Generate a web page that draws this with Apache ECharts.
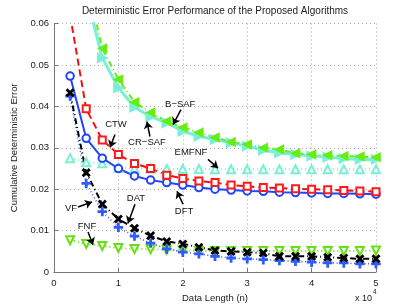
<!DOCTYPE html>
<html><head><meta charset="utf-8">
<script src="https://cdn.jsdelivr.net/npm/echarts@6/dist/echarts.min.js"></script>
<style>html,body{margin:0;padding:0;background:#fff}#c{width:415px;height:308px}</style>
</head><body><div id="c"></div>
<script>
// Data length n
const dataLength = [2500,5000,7500,10000,12500,15000,17500,20000,22500,25000,27500,30000,32500,35000,37500,40000,42500,45000,47500,50000];
const xTicks = ['0','1','2','3','4','5'];
const yTicks = ['0','0.01','0.02','0.03','0.04','0.05','0.06'];

const dft   = [0.0473,0.0323,0.0275,0.0250,0.0232,0.0222,0.0216,0.0210,0.0204,0.0200,0.0198,0.0196,0.0195,0.0193,0.0192,0.0191,0.0190,0.0190,0.0189,0.0188];
const ctw   = [0.0620,0.0394,0.0319,0.0284,0.0262,0.0250,0.0234,0.0226,0.0220,0.0216,0.0210,0.0207,0.0204,0.0203,0.0201,0.0200,0.0199,0.0197,0.0196,0.0194];
const bsaf  = [0.1000,0.0705,0.0540,0.0465,0.0410,0.0385,0.0364,0.0349,0.0337,0.0325,0.0314,0.0308,0.0300,0.0296,0.0287,0.0284,0.0282,0.0280,0.0279,0.0277];
const crsaf = [0.0950,0.0670,0.0517,0.0445,0.0398,0.0375,0.0360,0.0340,0.0328,0.0320,0.0312,0.0304,0.0294,0.0288,0.0284,0.0280,0.0277,0.0274,0.0272,0.0272];
const emfnf = [0.0275,0.0265,0.0263,0.0252,0.0250,0.0250,0.0249,0.0249,0.0249,0.0248,0.0248,0.0248,0.0248,0.0248,0.0248,0.0248,0.0248,0.0248,0.0248,0.0248];
const vf    = [0.0425,0.0214,0.0146,0.0108,0.0087,0.0070,0.0056,0.0048,0.0044,0.0038,0.0034,0.0032,0.0030,0.0028,0.0026,0.0024,0.0022,0.0022,0.0020,0.0020];
const dat   = [0.0433,0.0240,0.0164,0.0128,0.0106,0.0088,0.0074,0.0068,0.0060,0.0052,0.0050,0.0048,0.0046,0.0038,0.0038,0.0038,0.0036,0.0034,0.0032,0.0032];
const fnf   = [0.0077,0.0068,0.0063,0.0058,0.0056,0.0055,0.0054,0.0052,0.0051,0.0051,0.0051,0.0051,0.0051,0.0051,0.0051,0.0051,0.0051,0.0051,0.0051,0.0052];

// annotations: label, text position, arrow tail, arrow head (data coords)
const annLabels = ['B\u2212SAF','CR\u2212SAF','CTW','EMFNF','DFT','DAT','VF','FNF'];
const annText = [[19600,0.0404],[14440,0.0313],[9630,0.0356],[21270,0.0289],[20190,0.0147],[12730,0.0178],[2640,0.0154],[5120,0.0111]];
const annTail = [[19720,0.0392],[14900,0.0327],[9470,0.0332],[23910,0.0272],[20030,0.0164],[12580,0.0164],[3730,0.0157],[5280,0.0097]];
const annHead = [[18480,0.0356],[14440,0.0363],[8700,0.0301],[25470,0.0251],[19100,0.0195],[11490,0.0118],[5900,0.0169],[6060,0.0066]];

const FONT = 'Liberation Sans';
const plus = 'path://M-0.8,-5H0.8V-0.8H5V0.8H0.8V5H-0.8V0.8H-5V-0.8H-0.8Z';
const pts = arr => dataLength.map((x,i)=>[x,arr[i]]);

function mk(name, arr, color, lineType, width, symbol, size, opts){
  return Object.assign({
    name, type:'line', data:pts(arr), symbol, symbolSize:size, showAllSymbol:true,
    lineStyle:{color, width, type:lineType},
    itemStyle:{color, borderColor:color, borderWidth:1.5},
    clip:true, animation:false, silent:true, z:2
  }, opts||{});
}

const chart = echarts.init(document.getElementById('c'), null, {renderer:'canvas'});
const option = {
  backgroundColor:'#fff',
  animation:false,
  textStyle:{fontFamily:FONT},
  grid:{left:54, right:39, top:23.5, bottom:34.7},
  xAxis:{type:'value', min:0, max:50000, interval:10000,
    name:'Data Length (n)', nameLocation:'middle', nameGap:17,
    nameTextStyle:{fontFamily:FONT, fontSize:9.5, color:'#222'},
    axisLine:{show:true, lineStyle:{color:'#777', width:1}},
    axisTick:{show:true, inside:true, length:4, lineStyle:{color:'#777'}},
    axisLabel:{formatter:(v)=>xTicks[Math.round(v/10000)], fontFamily:FONT, fontSize:9.5, color:'#222', margin:6},
    splitLine:{show:true, lineStyle:{color:'#aaa', type:[1,3], width:1}}},
  yAxis:{type:'value', min:0, max:0.06, interval:0.01,
    name:'Cumulative Deterministic Error', nameLocation:'middle', nameGap:32,
    nameTextStyle:{fontFamily:FONT, fontSize:9.5, color:'#222'},
    axisLine:{show:true, lineStyle:{color:'#777', width:1}},
    axisTick:{show:true, inside:true, length:4, lineStyle:{color:'#777'}},
    axisLabel:{formatter:(v)=>yTicks[Math.round(v/0.01)], fontFamily:FONT, fontSize:9.5, color:'#222', margin:5},
    splitLine:{show:true, lineStyle:{color:'#aaa', type:[1,3], width:1}}},
  series:[
    mk('EMFNF', emfnf, '#78f0d2', [1,3], 2, 'emptyTriangle', 8, {itemStyle:{color:'#78f0d2', borderWidth:2}}),
    mk('CR-SAF', crsaf, '#78f0d8', 'solid', 3, 'triangle', 9, {symbolRotate:-90}),
    mk('B-SAF', bsaf, '#66ee11', [6,3,1,3], 2, 'triangle', 8, {symbolRotate:90}),
    mk('FNF', fnf, '#66e011', [1,3], 2, 'emptyTriangle', 8, {symbolRotate:180, itemStyle:{color:'#66e011', borderWidth:2}}),
    mk('VF', vf, '#2f5bff', [1,2.5], 1.5, plus, 8),
    mk('DAT', dat, '#000000', [6,3,1,3], 2, plus, 8.5, {symbolRotate:45}),
    mk('DFT', dft, '#2244ff', 'solid', 2, 'emptyCircle', 7.5, {itemStyle:{color:'#2244ff', borderWidth:1.5}}),
    mk('CTW', ctw, '#ee1111', [7,4], 2, 'emptyRect', 7, {itemStyle:{color:'#ff1a1a', borderWidth:2.5}}),
    {
      name:'annotations', type:'line', data:[], silent:true, animation:false, z:5,
      markLine:{silent:true, animation:false, symbol:['none','arrow'], symbolSize:7,
        lineStyle:{color:'#000', width:1.5, type:'solid'}, label:{show:false},
        data: annTail.map((t,i)=>[{coord:t}, {coord:annHead[i]}])},
      markPoint:{silent:true, animation:false, symbol:'rect', symbolSize:1,
        itemStyle:{color:'rgba(0,0,0,0)'},
        label:{show:true, position:'inside', color:'#111', fontFamily:FONT, fontSize:9.5, formatter:(p)=>p.name},
        data: annText.map((c,i)=>({name:annLabels[i], coord:c}))}
    }
  ],
  graphic:[
    {type:'text', x:215, y:6, style:{text:'Deterministic Error Performance of the Proposed Algorithms', fontFamily:FONT, fontSize:10, fill:'#222', textAlign:'center'}},
    {type:'text', left:355, top:294, style:{text:'x 10', fontFamily:FONT, fontSize:9, fill:'#222'}},
    {type:'text', left:373, top:289, style:{text:'4', fontFamily:FONT, fontSize:6.5, fill:'#222'}}
  ]
};
chart.setOption(option);
</script></body></html>
